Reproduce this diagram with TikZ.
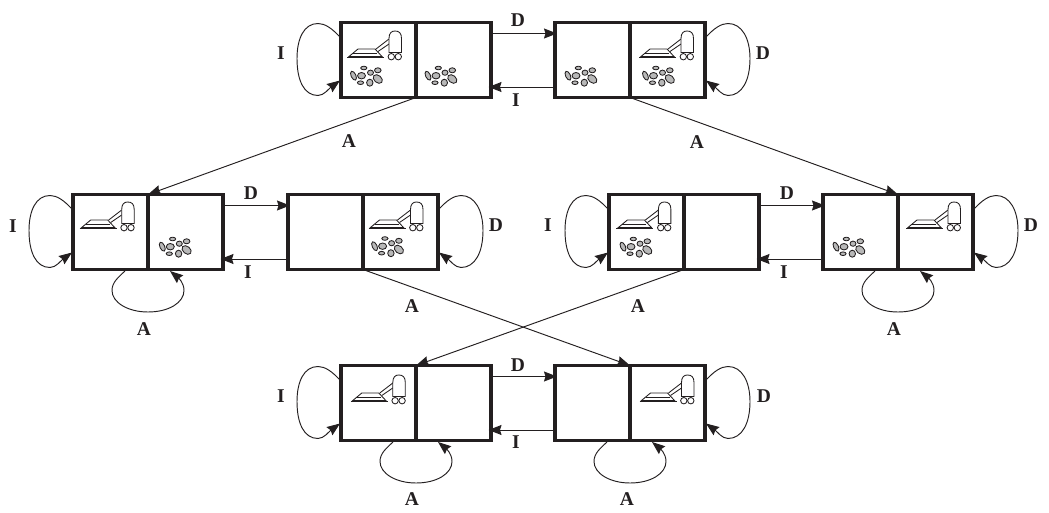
\documentclass[tikz,border=0pt]{standalone}
\usepackage{fontspec}
\setmainfont{Liberation Serif}
\usetikzlibrary{arrows.meta}
\definecolor{ink}{HTML}{231F20}
\definecolor{dirtgray}{HTML}{B8B8B8}
\tikzset{
  x=1pt, y=-1pt,
  cell/.style={draw=ink, line width=3.8pt, minimum width=75pt, minimum height=75pt, inner sep=0pt, outer sep=0pt, anchor=north west},
  link/.style={draw=ink, line width=0.95pt, -{Stealth[length=13pt,width=10pt,inset=1.5pt]}},
  lab/.style={font=\fontsize{19.5}{20}\selectfont\bfseries, text=ink, inner sep=0pt},
  part/.style={draw=ink, line width=0.85pt},
  pebble/.style={draw=ink, line width=0.85pt, fill=dirtgray},
}
% vacuum cleaner drawn from a cell's top-left corner, with a small nudge
\newcommand{\vacuum}[3]{%
  \begin{scope}[shift={(#1.north west)}, shift={(#2,#3)}]
    \draw[part, line width=1.1pt] (6,35) -- (43,35);
    \draw[part, fill=white] (8,34) -- (17,26.5) -- (34,26.5) -- (41,34) -- cycle;
    \draw[part] (12,31) -- (36,31);
    \draw[part] (35,26.5) -- (48,16.5);
    \draw[part] (37,29) -- (48,21.5);
    \draw[part, fill=white] (48,30) -- (48,16) .. controls (48,10.5) and (50.5,8.5) .. (54,8.5)
      .. controls (58,8.5) and (60.5,10.5) .. (60.5,16) -- (60.5,30) -- cycle;
    \draw[part, fill=white] (50.3,34.2) circle (3.2);
    \draw[part, fill=white] (57.3,34.2) circle (3.2);
  \end{scope}}
% heap of dirt drawn from a cell's top-left corner
\newcommand{\dirt}[3]{%
  \begin{scope}[shift={(#1.north west)}, shift={(25+#2,52.5+#3)}]
    \draw[pebble] (-1.7,-7) ellipse [x radius=3.1, y radius=1.8];
    \draw[pebble] (12.3,-4.7) ellipse [x radius=3.3, y radius=2.5];
    \draw[pebble] (5,-2.3) ellipse [x radius=3, y radius=2.6];
    \draw[pebble, rotate around={-65:(-12,0.7)}] (-12,0.7) ellipse [x radius=4.8, y radius=2.4];
    \draw[pebble] (-4,0.7) ellipse [x radius=4, y radius=3.2];
    \draw[pebble, rotate around={-40:(12.3,4)}] (12.3,4) ellipse [x radius=5.2, y radius=3.6];
    \draw[pebble] (4.3,7.7) ellipse [x radius=3.2, y radius=3.5];
    \draw[pebble] (-5,7.7) ellipse [x radius=3.1, y radius=1.8];
  \end{scope}}
% self loop leaving and re-entering the left side of a cell
\newcommand{\loopI}[1]{%
  \draw[link] ([shift={(-1.5,14)}]#1.north west)
    .. controls ([shift={(-9,6)}]#1.north west) and ([shift={(-16,1)}]#1.north west) .. ([shift={(-23,1)}]#1.north west)
    .. controls ([shift={(-37,1)}]#1.north west) and ([shift={(-44,16)}]#1.north west) .. ([shift={(-44,36)}]#1.north west)
    .. controls ([shift={(-44,58)}]#1.north west) and ([shift={(-37,73)}]#1.north west) .. ([shift={(-23,73)}]#1.north west)
    .. controls ([shift={(-17,73)}]#1.north west) and ([shift={(-12,66)}]#1.north west) .. ([shift={(-1,58)}]#1.north west);}
% self loop leaving and re-entering the right side of a cell
\newcommand{\loopD}[1]{%
  \draw[link] ([shift={(1.5,14)}]#1.north east)
    .. controls ([shift={(9,6)}]#1.north east) and ([shift={(16,1)}]#1.north east) .. ([shift={(23,1)}]#1.north east)
    .. controls ([shift={(37,1)}]#1.north east) and ([shift={(45,16)}]#1.north east) .. ([shift={(45,36)}]#1.north east)
    .. controls ([shift={(45,58)}]#1.north east) and ([shift={(37,73)}]#1.north east) .. ([shift={(23,73)}]#1.north east)
    .. controls ([shift={(17,73)}]#1.north east) and ([shift={(12,66)}]#1.north east) .. ([shift={(1,58)}]#1.north east);}
% self loop below the wall between the two cells of a state
\newcommand{\loopA}[1]{%
  \draw[link] ([shift={(52,1.5)}]#1.south west)
    .. controls ([shift={(45,8)}]#1.south west) and ([shift={(39,13)}]#1.south west) .. ([shift={(39,21)}]#1.south west)
    .. controls ([shift={(39,33)}]#1.south west) and ([shift={(55,42.5)}]#1.south west) .. ([shift={(75,42.5)}]#1.south west)
    .. controls ([shift={(96,42.5)}]#1.south west) and ([shift={(111,33)}]#1.south west) .. ([shift={(111,21)}]#1.south west)
    .. controls ([shift={(111,13)}]#1.south west) and ([shift={(105,8)}]#1.south west) .. ([shift={(97,1.5)}]#1.south west);}
% the pair of move arrows between two neighbouring states
\newcommand{\moves}[2]{%
  \draw[link] ([shift={(1.5,11)}]#1.north east) -- ([shift={(2,11)}]#2.north west);
  \draw[link] ([shift={(-1.5,64.5)}]#2.north west) -- ([shift={(-2.5,64.5)}]#1.north east);}
\begin{document}
\begin{tikzpicture}
\useasboundingbox (0,0) rectangle (1049,513);
% states, each made of two cells
\node[cell] (aL) at (341,22.5) {};  \node[cell] (aR) at (416,22.5) {};
\node[cell] (bL) at (555,22.5) {};  \node[cell] (bR) at (630,22.5) {};
\node[cell] (cL) at (73,194.5) {};  \node[cell] (cR) at (148,194.5) {};
\node[cell] (dL) at (288,194.5) {}; \node[cell] (dR) at (363,194.5) {};
\node[cell] (eL) at (609,194.5) {}; \node[cell] (eR) at (684,194.5) {};
\node[cell] (fL) at (823,194.5) {}; \node[cell] (fR) at (898,194.5) {};
\node[cell] (gL) at (341,365.5) {}; \node[cell] (gR) at (416,365.5) {};
\node[cell] (hL) at (555,365.5) {}; \node[cell] (hR) at (630,365.5) {};
% contents of the cells
\vacuum{aL}{0}{0}\dirt{aL}{-0.5}{0}\dirt{aR}{-1}{0}
\dirt{bL}{0}{0}\vacuum{bR}{3}{0}\dirt{bR}{2.5}{0}
\vacuum{cL}{0.7}{-1}\dirt{cR}{1.3}{-1}
\vacuum{dR}{-0.5}{-1}\dirt{dR}{-1.4}{-1.5}
\vacuum{eL}{1.4}{-1}\dirt{eL}{1}{-1}
\dirt{fL}{0}{-1}\vacuum{fR}{2}{-1}
\vacuum{gL}{3.8}{1}
\vacuum{hR}{3.5}{1}
% self loops
\loopI{aL}\loopD{bR}\loopI{cL}\loopD{dR}\loopI{eL}\loopD{fR}\loopI{gL}\loopD{hR}
\loopA{cL}\loopA{fL}\loopA{gL}\loopA{hL}
% moves between neighbouring states
\moves{aR}{bL}\moves{cR}{dL}\moves{eR}{fL}\moves{gR}{hL}
% suction transitions
\draw[link] (aR.south west) -- (cR.north west);
\draw[link] (bR.south west) -- (fR.north west);
\draw[link] (dR.south west) -- (hR.north west);
\draw[link] (eR.south west) -- (gR.north west);
% labels
\node[lab] (l1) at (281,53) {I};
\node[lab] (l2) at (518,20) {D};
\node[lab] (l3) at (763,53) {D};
\node[lab] (l4) at (516,100) {I};
\node[lab] (l5) at (349,141) {A};
\node[lab] (l6) at (697,142) {A};
\node[lab] (l7) at (13,226) {I};
\node[lab] (l8) at (251,193) {D};
\node[lab] (l9) at (496,225) {D};
\node[lab] (l10) at (248,272) {I};
\node[lab] (l11) at (144,329) {A};
\node[lab] (l12) at (412,306) {A};
\node[lab] (l13) at (548,225.5) {I};
\node[lab] (l14) at (787,193) {D};
\node[lab] (l15) at (1031,225.5) {D};
\node[lab] (l16) at (784,272.5) {I};
\node[lab] (l17) at (638,306) {A};
\node[lab] (l18) at (894,329) {A};
\node[lab] (l19) at (281,396) {I};
\node[lab] (l20) at (518,365) {D};
\node[lab] (l21) at (764,396) {D};
\node[lab] (l22) at (516,442) {I};
\node[lab] (l23) at (412,499) {A};
\node[lab] (l24) at (627,499) {A};
\end{tikzpicture}
\end{document}
